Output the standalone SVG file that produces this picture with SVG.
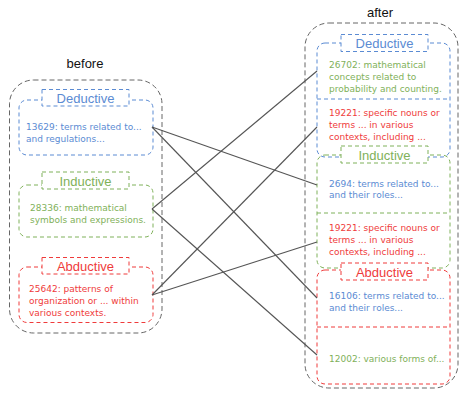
<svg xmlns="http://www.w3.org/2000/svg" width="461" height="394" viewBox="0 0 461 394">
<style>
text{font-family:"Liberation Sans","DejaVu Sans",sans-serif}
.title{font-size:13px;fill:#111;text-anchor:middle}
.outer{fill:none;stroke:#666;stroke-width:1;stroke-dasharray:5 3}
.box{fill:none;stroke-width:1;stroke-dasharray:4 3}
.lab{fill:#fff;stroke-width:1;stroke-dasharray:4 3}
.lt{font-size:13px;text-anchor:middle}
.t{font-size:9px;font-family:"DejaVu Sans","Liberation Sans",sans-serif}
.b{stroke:#5b8bd3}.bt{fill:#5b8bd3}
.g{stroke:#7fb15a}.gt{fill:#7fb15a}
.r{stroke:#ef3b3b}.rt{fill:#ef3b3b}
.conn line{stroke:#555;stroke-width:1.1}
</style>
<rect width="461" height="394" fill="#fff"/>
<g id="before">
<text class="title" x="85" y="68">before</text>
<rect class="outer" x="9.5" y="80" width="152.5" height="253" rx="24"/>
</g>
<g id="after">
<text class="title" x="380" y="17">after</text>
<rect class="outer" x="305" y="23" width="153" height="365" rx="24"/>
</g>
<g id="b-deductive">
<rect class="box b" x="19" y="100" width="134" height="55" rx="8"/>
<rect class="lab b" x="42" y="89.5" width="87" height="16.5"/>
<text class="lt bt" x="85.5" y="102.5">Deductive</text>
<text class="t bt" x="26" y="130">13629: terms related to...</text>
<text class="t bt" x="26" y="142">and regulations...</text>
</g>
<g id="b-inductive">
<rect class="box g" x="19" y="185" width="134" height="52" rx="8"/>
<rect class="lab g" x="42" y="172" width="87" height="17"/>
<text class="lt gt" x="85.5" y="185.5">Inductive</text>
<text class="t gt" x="30" y="211">28336: mathematical</text>
<text class="t gt" x="30" y="223">symbols and expressions.</text>
</g>
<g id="b-abductive">
<rect class="box r" x="19" y="267" width="134" height="55.5" rx="8"/>
<rect class="lab r" x="42" y="257.5" width="87" height="16.5"/>
<text class="lt rt" x="85.5" y="270.5">Abductive</text>
<text class="t rt" x="29" y="292">25642: patterns of</text>
<text class="t rt" x="29" y="304">organization or ... within</text>
<text class="t rt" x="29" y="316">various contexts.</text>
</g>
<g id="a-deductive">
<rect class="box b" x="317" y="43" width="133" height="114" rx="8"/>
<line class="box b" x1="317" y1="99" x2="450" y2="99"/>
<rect class="lab b" x="341" y="34.5" width="87" height="17"/>
<text class="lt bt" x="384.5" y="48">Deductive</text>
<text class="t gt" x="329" y="68">26702: mathematical</text>
<text class="t gt" x="329" y="80">concepts related to</text>
<text class="t gt" x="329" y="92">probability and counting.</text>
<text class="t rt" x="329" y="115.5">19221: specific nouns or</text>
<text class="t rt" x="329" y="127.5">terms ... in various</text>
<text class="t rt" x="329" y="139.5">contexts, including ...</text>
</g>
<g id="a-inductive">
<rect class="box g" x="317" y="155" width="133" height="113" rx="8"/>
<line class="box g" x1="317" y1="213" x2="450" y2="213"/>
<rect class="lab g" x="341" y="146" width="87" height="17"/>
<text class="lt gt" x="384.5" y="159.5">Inductive</text>
<text class="t bt" x="329" y="187">2694: terms related to...</text>
<text class="t bt" x="329" y="198">and their roles...</text>
<text class="t rt" x="329" y="230.5">19221: specific nouns or</text>
<text class="t rt" x="329" y="242.5">terms ... in various</text>
<text class="t rt" x="329" y="254.5">contexts, including ...</text>
</g>
<g id="a-abductive">
<rect class="box r" x="317" y="270" width="133" height="114" rx="8"/>
<line class="box r" x1="317" y1="327" x2="450" y2="327"/>
<rect class="lab r" x="341" y="263" width="87" height="17"/>
<text class="lt rt" x="384.5" y="276.5">Abductive</text>
<text class="t bt" x="329" y="299">16106: terms related to...</text>
<text class="t bt" x="329" y="311">and their roles...</text>
<text class="t gt" x="329" y="362">12002: various forms of...</text>
</g>
<g id="connectors" class="conn">
<line x1="152" y1="127" x2="317" y2="185"/>
<line x1="152" y1="127" x2="317" y2="298"/>
<line x1="152" y1="209" x2="317" y2="71"/>
<line x1="152" y1="209" x2="317" y2="355"/>
<line x1="152" y1="295" x2="317" y2="127"/>
<line x1="152" y1="295" x2="317" y2="242"/>
</g>
</svg>
